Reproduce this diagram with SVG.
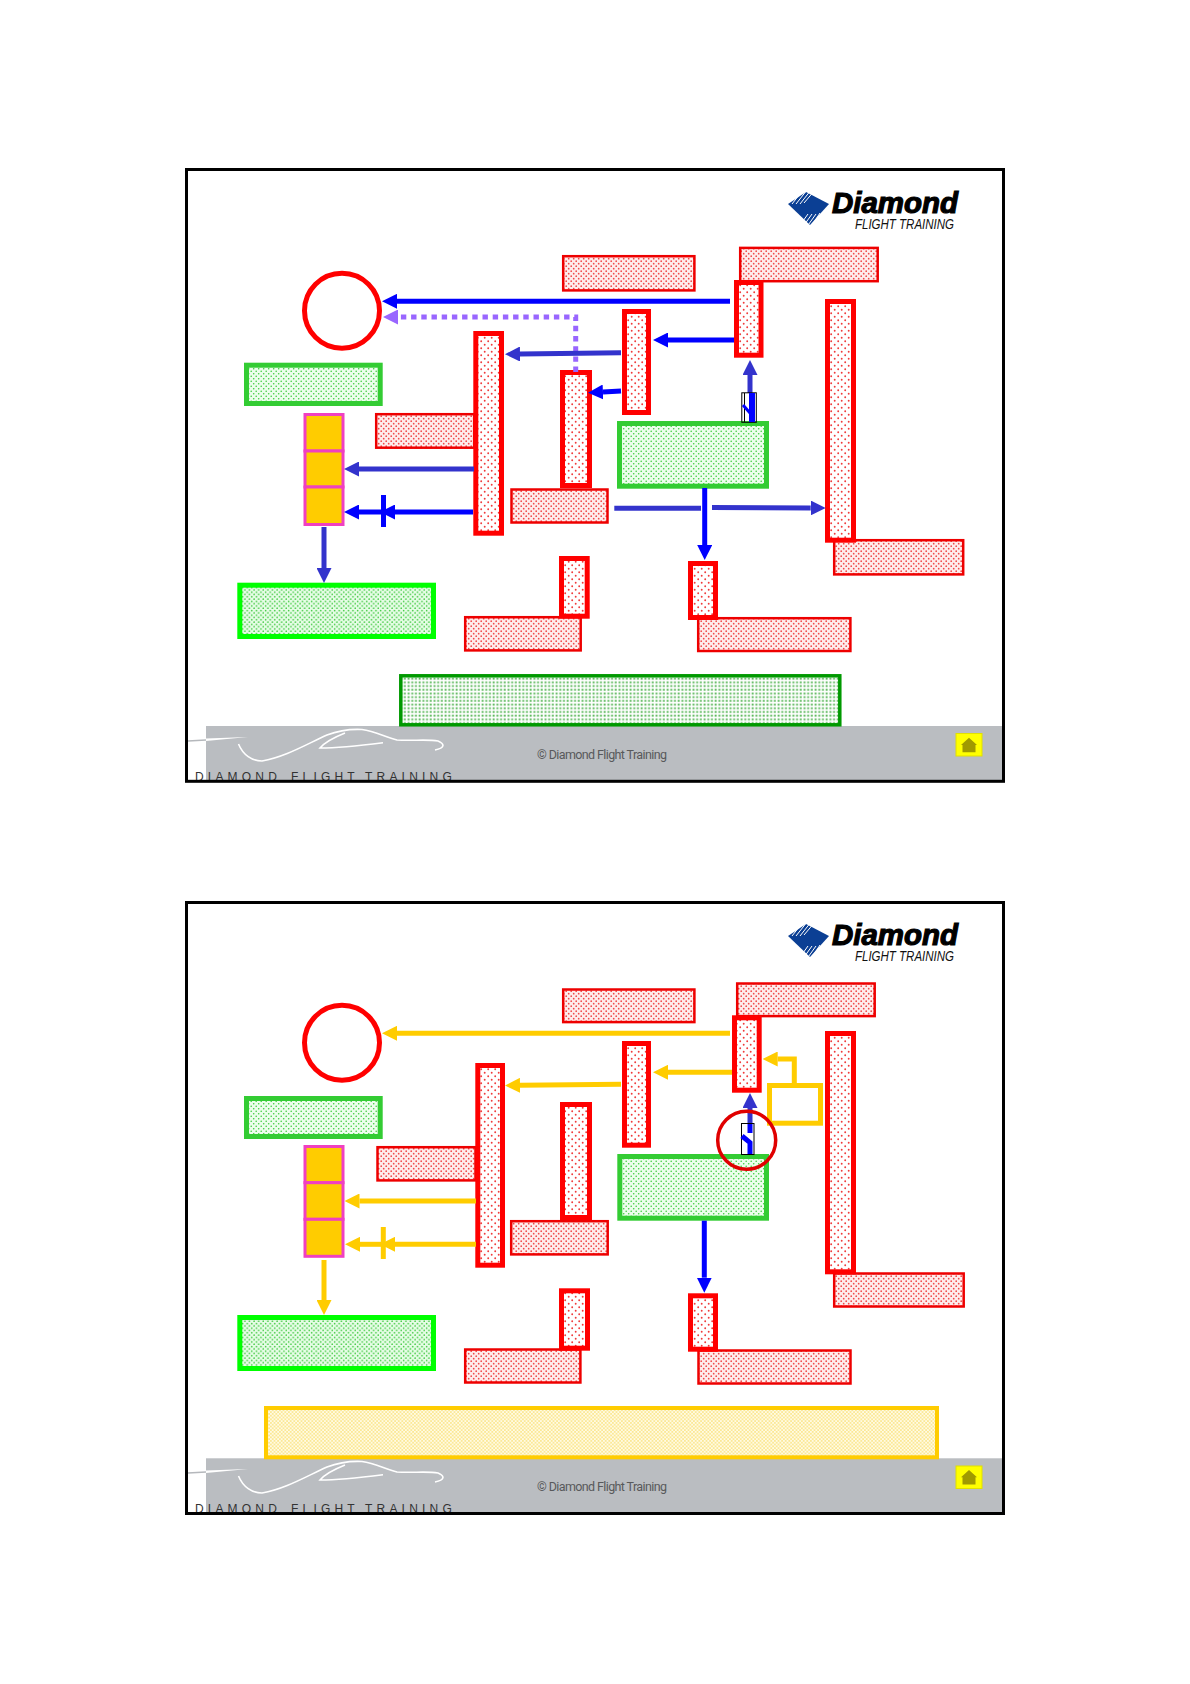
<svg xmlns="http://www.w3.org/2000/svg" width="1190" height="1684" viewBox="0 0 1190 1684">
<style>
.tall{fill:url(#dots);stroke:#ff0000;stroke-width:5}
.lab{fill:url(#fine);stroke:#ee0000;stroke-width:2.5}
.gbox{fill:url(#gdots);stroke:#33cc33;stroke-width:5}
.bright{fill:url(#gdots2);stroke:#00ff00;stroke-width:5}
.cell{fill:#ffcc00;stroke:#f040c0;stroke-width:3}
.ring{fill:none;stroke:#ff0000;stroke-width:5}
.frame{fill:none;stroke:#000;stroke-width:3}
.grey{fill:#babdc1}
.c{fill:none;stroke-width:5}
.b{stroke:#0000ff;marker-end:url(#hb)}
.i{stroke:#3333cc;marker-end:url(#hi)}
.y{stroke:#ffcc00;marker-end:url(#hy)}
.p{stroke:#9966ff;stroke-dasharray:5.4 4.8;marker-end:url(#hp)}
.sw{fill:#fff;stroke:#000;stroke-width:1}
.car{fill:none;stroke:#fff;stroke-width:1.6}
.foot{font-family:Roboto,"Liberation Sans",Arial,sans-serif;font-size:12.5px;fill:#58595b}
.brand{font-family:"Liberation Sans",Arial,sans-serif;font-size:12px;fill:#333;letter-spacing:4.2px}
.lg1{font-family:"Liberation Sans",Arial,sans-serif;font-size:30px;font-weight:bold;font-style:italic;fill:#000;stroke:#000;stroke-width:1.2}
.lg2{font-family:"Liberation Sans",Arial,sans-serif;font-size:14px;font-style:italic;fill:#111}
.hat{stroke:#fff;stroke-width:1;fill:none}
</style>
<defs>
<pattern id="dots" width="7" height="7" patternUnits="userSpaceOnUse"><rect width="7" height="7" fill="#fff"/><circle cx="1.7" cy="1.7" r="0.95" fill="#f03a3a"/><circle cx="5.2" cy="5.2" r="0.95" fill="#f03a3a"/></pattern>
<pattern id="fine" width="5" height="5" patternUnits="userSpaceOnUse"><rect width="5" height="5" fill="#feecec"/><circle cx="1.2" cy="1.2" r="0.85" fill="#f04848"/><circle cx="3.7" cy="3.7" r="0.85" fill="#f04848"/></pattern>
<pattern id="gdots" width="5" height="5" patternUnits="userSpaceOnUse"><rect width="5" height="5" fill="#ecfeec"/><circle cx="1.2" cy="1.2" r="0.8" fill="#3ccc3c"/><circle cx="3.7" cy="3.7" r="0.8" fill="#3ccc3c"/></pattern>
<pattern id="gdots2" width="4.6" height="4.6" patternUnits="userSpaceOnUse"><rect width="4.6" height="4.6" fill="#e6fde6"/><circle cx="1.1" cy="1.1" r="0.8" fill="#3cc83c"/><circle cx="3.4" cy="3.4" r="0.8" fill="#3cc83c"/></pattern>
<pattern id="grid" width="3.7" height="3.7" patternUnits="userSpaceOnUse"><rect width="3.7" height="3.7" fill="#fff"/><rect x="0.6" y="0.6" width="1.9" height="1.9" fill="#5cb85c"/></pattern>
<pattern id="yd" width="3.6" height="3.6" patternUnits="userSpaceOnUse"><rect width="3.6" height="3.6" fill="#fffbe4"/><circle cx="0.9" cy="0.9" r="0.68" fill="#f6cc20"/><circle cx="2.7" cy="2.7" r="0.68" fill="#f6cc20"/></pattern>
<marker id="hb" markerUnits="userSpaceOnUse" markerWidth="15" markerHeight="15" refX="0" refY="7.5" orient="auto"><path d="M0 0L15 7.5L0 15z" fill="#0000ff"/></marker>
<marker id="hi" markerUnits="userSpaceOnUse" markerWidth="15" markerHeight="15" refX="0" refY="7.5" orient="auto"><path d="M0 0L15 7.5L0 15z" fill="#3333cc"/></marker>
<marker id="hy" markerUnits="userSpaceOnUse" markerWidth="15" markerHeight="15" refX="0" refY="7.5" orient="auto"><path d="M0 0L15 7.5L0 15z" fill="#ffcc00"/></marker>
<marker id="hp" markerUnits="userSpaceOnUse" markerWidth="15" markerHeight="15" refX="0" refY="7.5" orient="auto"><path d="M0 0L15 7.5L0 15z" fill="#9966ff"/></marker>
</defs>
<rect width="1190" height="1684" fill="#fff"/>

<g id="footer-1">
<rect class="grey" x="206" y="726" width="797" height="55"/>
<path d="M188 741L206 740" stroke="#b5b8bc" stroke-width="1.5" fill="none"/>
<path d="M206 738.5L248 737L206 741z" fill="#fff"/>
<path class="car" d="M238.5 744C243 755 252 761 262 761C285 757 305 745 327 735C340 730 352 729 362 729.5C375 731 385 737 397 740C412 741 428 739 438 741C445 744 445 748 435 750"/>
<path class="car" d="M345 733C335 737 325 742 320 748C340 748 365 745 383 742.7"/>
<text class="foot" x="537" y="759" textLength="130">© Diamond Flight Training</text>
<text class="brand" y="781"><tspan x="195">DIAMOND</tspan> <tspan x="291">FLIGHT</tspan> <tspan x="365">TRAINING</tspan></text>
<g id="home-1"><rect x="956" y="733.5" width="26" height="22.5" fill="#ffff00" stroke="#e0e000" stroke-width="1"/><path d="M969 737.7L977 745H975.5V752.3H962.5V745H961z" fill="#a09a00"/></g>
</g>
<g id="footer-2">
<rect class="grey" x="206" y="1458.3" width="797" height="55"/>
<path d="M188 1473L206 1472" stroke="#b5b8bc" stroke-width="1.5" fill="none"/>
<path d="M206 1470.5L248 1469L206 1473z" fill="#fff"/>
<path class="car" d="M238.5 1476C243 1487 252 1493 262 1493C285 1489 305 1477 327 1467C340 1462 352 1461 362 1461.5C375 1463 385 1469 397 1472C412 1473 428 1471 438 1473C445 1476 445 1480 435 1482"/>
<path class="car" d="M345 1465C335 1469 325 1474 320 1480C340 1480 365 1477 383 1474.7"/>
<text class="foot" x="537" y="1491" textLength="130">© Diamond Flight Training</text>
<text class="brand" y="1513"><tspan x="195">DIAMOND</tspan> <tspan x="291">FLIGHT</tspan> <tspan x="365">TRAINING</tspan></text>
<g id="home-2"><rect x="956" y="1466" width="26" height="22.5" fill="#ffff00" stroke="#e0e000" stroke-width="1"/><path d="M969 1470L977 1477.3H975.5V1484.5H962.5V1477.3H961z" fill="#a09a00"/></g>
</g>

<g id="logo-1">
<path d="M788 204L806 192L829 204L810 225z" fill="#0b3f94"/>
<path class="hat" d="M792 204L803 190M796 204L807 190M800 204L811 190M804 203L815 190M808 214L798 228M812 214L802 228M816 214L806 228M820 213L810 228"/>
<text class="lg1" x="832" y="213" textLength="126" lengthAdjust="spacingAndGlyphs">Diamond</text>
<text class="lg2" x="855" y="229" textLength="99" lengthAdjust="spacingAndGlyphs">FLIGHT TRAINING</text>
</g>
<g id="logo-2">
<path d="M788 936L806 924L829 936L810 957z" fill="#0b3f94"/>
<path class="hat" d="M792 936L803 922M796 936L807 922M800 936L811 922M804 935L815 922M808 946L798 960M812 946L802 960M816 946L806 960M820 945L810 960"/>
<text class="lg1" x="832" y="945" textLength="126" lengthAdjust="spacingAndGlyphs">Diamond</text>
<text class="lg2" x="855" y="961" textLength="99" lengthAdjust="spacingAndGlyphs">FLIGHT TRAINING</text>
</g>

<g id="labels-1">
<rect id="a1" class="lab" x="563.2" y="256.2" width="131.2" height="34.2"/>
<rect id="a2" class="lab" x="740.2" y="247.9" width="137.5" height="33.3"/>
<rect id="a3" class="lab" x="376.2" y="414.2" width="98" height="33.5"/>
<rect id="a4" class="lab" x="511.5" y="489.5" width="96" height="33"/>
<rect id="a5" class="lab" x="465.2" y="617.2" width="115.5" height="33.2"/>
<rect id="a6" class="lab" x="698.2" y="618.2" width="152.2" height="32.8"/>
<rect id="a7" class="lab" x="834.2" y="540.2" width="129" height="34.2"/>
</g>
<g id="tall-1">
<rect id="b1" class="tall" x="475.8" y="333.5" width="25.7" height="199.7"/>
<rect id="b2" class="tall" x="562.5" y="372.5" width="27" height="113"/>
<rect id="b3" class="tall" x="624.5" y="311.5" width="24" height="101"/>
<rect id="b4" class="tall" x="736.5" y="282.5" width="24.5" height="72.7"/>
<rect id="b5" class="tall" x="827.5" y="301.5" width="26" height="238.7"/>
<rect id="b6" class="tall" x="561.5" y="558.5" width="25.7" height="57.7"/>
<rect id="b7" class="tall" x="690.5" y="563.5" width="25" height="54"/>
</g>
<circle id="ring-1" class="ring" cx="342" cy="310.7" r="37.5"/>
<rect id="green-1" class="gbox" x="246.5" y="365.2" width="133.7" height="38.3"/>
<rect id="center-1" class="gbox" x="619.5" y="423.5" width="147" height="62.7"/>
<rect id="bright-1" class="bright" x="239.8" y="585.2" width="193.7" height="51.3"/>
<g id="stack-1">
<rect class="cell" x="305" y="414.5" width="38" height="36.5"/>
<rect class="cell" x="305" y="451" width="38" height="36"/>
<rect class="cell" x="305" y="487" width="38" height="37.5"/>
</g>
<rect id="band-1" x="400.8" y="675.8" width="439" height="49" fill="url(#grid)" stroke="#009900" stroke-width="3.5"/>

<g id="labels-2">
<rect id="c1" class="lab" x="563.2" y="989.5" width="131.2" height="32.6"/>
<rect id="c2" class="lab" x="737.2" y="983.5" width="137.5" height="32.6"/>
<rect id="c3" class="lab" x="377.5" y="1147.2" width="98" height="33.2"/>
<rect id="c4" class="lab" x="511.2" y="1221.2" width="96.5" height="33.2"/>
<rect id="c5" class="lab" x="465.2" y="1349.5" width="115.2" height="33"/>
<rect id="c6" class="lab" x="698.5" y="1350.5" width="152" height="33"/>
<rect id="c7" class="lab" x="834.2" y="1273.5" width="129.5" height="33"/>
</g>
<g id="tall-2">
<rect id="d1" class="tall" x="477.8" y="1065.5" width="24.7" height="199.7"/>
<rect id="d2" class="tall" x="562.5" y="1104.5" width="27" height="113"/>
<rect id="d3" class="tall" x="624.5" y="1043.5" width="24" height="101.7"/>
<rect id="d4" class="tall" x="734.5" y="1017.8" width="24.7" height="72.4"/>
<rect id="d5" class="tall" x="827.5" y="1033.5" width="26" height="238.3"/>
<rect id="d6" class="tall" x="561.5" y="1290.8" width="26" height="57.4"/>
<rect id="d7" class="tall" x="690.5" y="1295.8" width="25" height="53.4"/>
</g>
<circle id="ring-2" class="ring" cx="342" cy="1042.7" r="37.5"/>
<rect id="green-2" class="gbox" x="246.5" y="1098.5" width="133.7" height="38"/>
<rect id="center-2" class="gbox" x="619.8" y="1156.5" width="146.7" height="61.7"/>
<rect id="bright-2" class="bright" x="239.8" y="1317.5" width="193.7" height="51"/>
<g id="stack-2">
<rect class="cell" x="305" y="1146.5" width="38" height="36.2"/>
<rect class="cell" x="305" y="1182.7" width="38" height="36.6"/>
<rect class="cell" x="305" y="1219.3" width="38" height="37"/>
</g>
<rect id="band-2" x="266" y="1408" width="671" height="49.3" fill="url(#yd)" stroke="#ffcc00" stroke-width="4"/>
<rect id="box-2" x="769.5" y="1085.5" width="51" height="37.7" fill="#fff" stroke="#ffcc00" stroke-width="5"/>

<g id="connectors">
<path class="c b" d="M730 301.3H397"/>
<path class="c p" d="M575.7 372V317H398"/>
<path class="c i" d="M621 352.7L520 354"/>
<path class="c b" d="M621 391L603 392"/>
<path class="c b" d="M734 340H668"/>
<path class="c i" d="M750 393V375"/>
<path class="c i" d="M474 469H359"/>
<path class="c b" d="M473 512H395"/>
<path class="c b" d="M382 512H359"/>
<path d="M383.5 495V527" fill="none" stroke="#0000ff" stroke-width="5"/>
<path class="c i" d="M324 527V568"/>
<path class="c" stroke="#3333cc" d="M614.3 508.3H701"/>
<path class="c i" d="M712 507.5L810.7 508"/>
<path class="c b" d="M704.7 488V545"/>
<path class="c y" d="M730 1033.3H397"/>
<path class="c y" d="M621 1084.3L520 1085.3"/>
<path class="c y" d="M732 1072.3H668"/>
<path class="c y" d="M794.3 1083V1059H777.7"/>
<path class="c y" d="M476 1201H359.5"/>
<path class="c y" d="M476 1244.3H395"/>
<path class="c y" d="M382 1244.3H360"/>
<path d="M383.3 1227V1259" fill="none" stroke="#ffcc00" stroke-width="5"/>
<path class="c y" d="M324 1260V1300"/>
<path class="c b" d="M704.3 1220.7V1277.7"/>
<path class="c i" d="M750 1124V1108"/>
</g>

<g id="switch-1">
<rect class="sw" x="741.8" y="392.8" width="14.5" height="29.5" fill-opacity="0"/>
<path d="M744.5 393V422" stroke="#000" stroke-width="1" fill="none"/>
<path d="M752 393V422" stroke="#0000ff" stroke-width="6" fill="none"/>
<path d="M743 405L750 413" stroke="#0000ff" stroke-width="3" fill="none"/>
</g>
<g id="switch-2">
<rect class="sw" x="741.5" y="1123.5" width="12.5" height="31"/>
<path d="M750 1124V1133M750 1154V1142.7L742 1136" stroke="#0000ff" stroke-width="5" fill="none"/>
</g>
<circle id="focus-2" cx="746.7" cy="1140.3" r="29" fill="none" stroke="#e00000" stroke-width="3.5"/>

<rect id="frame-1" class="frame" x="186.5" y="169.5" width="817" height="611.8"/>
<rect id="frame-2" class="frame" x="186.5" y="902.5" width="817" height="611"/>
</svg>
